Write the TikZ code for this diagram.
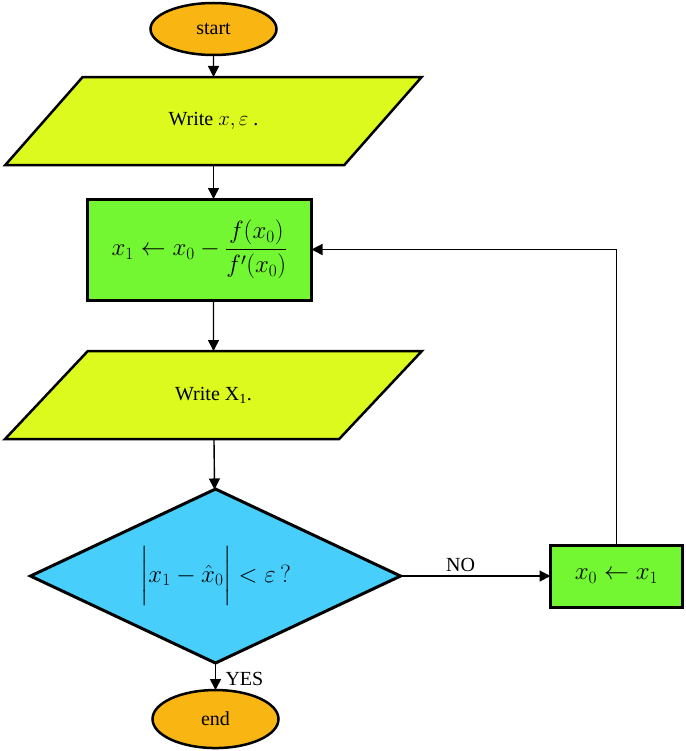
\documentclass[tikz,border=0pt]{standalone}
\usepackage{fontspec}
\setmainfont{Liberation Serif}
\usepackage{amsmath}
\usepackage{xcolor}
\usetikzlibrary{shapes,arrows.meta,positioning,calc}

\definecolor{termcol}{HTML}{F9B612}
\definecolor{iocol}{HTML}{DCFA1E}
\definecolor{proccol}{HTML}{72F732}
\definecolor{testcol}{HTML}{47CEFA}

\begin{document}
\begin{tikzpicture}[%
      >={Triangle[length=11pt,width=11pt]}, % filled arrow heads
      line width=1.4pt,
      font=\fontsize{20}{24}\selectfont,
      mathbig/.style={font=\fontsize{27}{31}\selectfont},
      auto
      ]
  \tikzset{
    term/.style={draw,ellipse,fill=termcol,line width=2.5pt,outer sep=0pt,minimum width=126pt,minimum height=52pt},
    io/.style={draw,trapezium,trapezium left angle=40,trapezium right angle=140,outer sep=0pt,
      trapezium stretches=true,fill=iocol,line width=2.5pt,minimum width=417pt,minimum height=88pt},
    proc/.style={draw,rectangle,fill=proccol,line width=3pt,outer sep=0pt,mathbig},
    test/.style={draw,diamond,aspect=2.1,fill=testcol,line width=3pt,outer sep=0pt,minimum width=370pt,minimum height=174pt,inner sep=0pt,mathbig}}

 \useasboundingbox (0,0) rectangle (685pt,-751pt);

 \node [term] (start) at (213.5pt,-29pt) {start};

 \node [io,below=22pt of start] (in) {Write $x,\varepsilon$ .};

 \node [proc,below=34pt of in,xshift=-14pt,minimum width=224pt,minimum height=101pt] (newton)
   {$x_1 \leftarrow x_0 - \dfrac{f(x_0)}{f'(x_0)}$};

 \node [io,below=51pt of newton,xshift=14pt] (out) {Write X\textsubscript{1}.};

 \node [test,below=50pt of out,xshift=2pt] (t1)
   {$\bigg|x_1 - \hat{x}_0\bigg| < \varepsilon\,?$};

 \node [proc,right=150pt of t1,minimum width=132pt,minimum height=62pt] (upd) {$x_0 \leftarrow x_1$};

 \node [term,below=27pt of t1,minimum height=58pt] (end) {end};

 \draw[->] (start) -- (in);
 \draw[->] (in.south) -- (in.south |- newton.north);
 \draw[->] (out.north |- newton.south) -- (out);
 \draw[->] (out) -- (t1);
 \draw[->] (t1) -- node[pos=0.4,above]{NO} (upd);
 \draw[->] (upd) |- (newton);
 \draw[->] (t1) -- node[pos=0.6,right,xshift=6pt]{YES} (end);
\end{tikzpicture}
\end{document}
